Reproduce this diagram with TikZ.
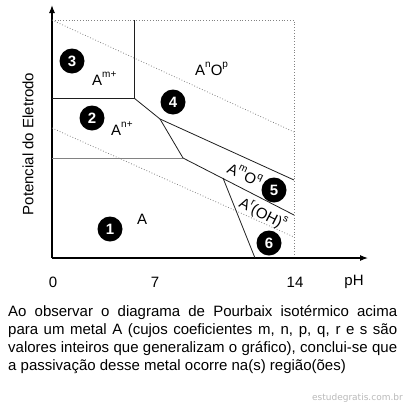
\documentclass[tikz,border=0pt]{standalone}
\usepackage{fontspec}
\setmainfont{Liberation Sans}
\newfontfamily\markfont{DejaVu Sans}
\usetikzlibrary{arrows.meta, positioning, calc}
\definecolor{pbline}{RGB}{30,30,30}
\definecolor{pbgray}{RGB}{130,130,130}
\definecolor{pbmark}{RGB}{185,185,185}
\newcommand{\pbsup}[1]{\raisebox{0.5em}{\fontsize{10}{10}\selectfont #1}}
\tikzset{
  axis/.style={-{Latex[length=8pt,width=6pt]}, line width=1.1pt, black},
  bnd/.style={line width=0.8pt, pbline},
  bndg/.style={line width=0.8pt, pbgray},
  wat/.style={line width=0.8pt, pbgray, dotted},
  frm/.style={line width=0.8pt, pbgray, dotted},
  reg/.style={circle, fill=black, text=white, minimum size=25pt, inner sep=0pt,
    font=\fontsize{15}{15}\selectfont\bfseries},
  spc/.style={font=\fontsize{15}{15}\selectfont, inner sep=0pt},
  tck/.style={font=\fontsize{15}{15}\selectfont, inner sep=0pt, anchor=base},
  para/.style={font=\fontsize{15}{18}\selectfont, text width=389pt, align=justify,
    inner sep=0pt, anchor=base west},
  wmark/.style={font=\markfont\fontsize{9}{9}\selectfont, text=pbmark, inner sep=0pt,
    anchor=base east}
}
\begin{document}
\begin{tikzpicture}[x=1pt, y=-1pt]
  \useasboundingbox (0,0) rectangle (407,405);
  % frame and axes
  \coordinate (o) at (52,258);
  \coordinate (ytop) at (52,5);
  \coordinate (xend) at (368,258);
  \coordinate (tl) at (52,20);
  \coordinate (tr) at (294,20);
  \coordinate (br) at (294,258);
  \draw[frm] (tl) -- (tr) -- (br);
  \draw[axis] (o) -- (ytop);
  \draw[axis] (o) -- (xend);
  % water lines
  \coordinate (wa) at (52,20);
  \coordinate (wb) at (294,132);
  \coordinate (wc) at (52,128);
  \coordinate (wd) at (294,237);
  \draw[wat] (wa) -- (wb);
  \draw[wat] (wc) -- (wd);
  % boundaries
  \coordinate (p1) at (134,20);
  \coordinate (p2) at (134,98);
  \coordinate (p3) at (52,98);
  \coordinate (p4) at (160,119);
  \coordinate (p5) at (294,180);
  \coordinate (p6) at (183,158);
  \coordinate (p7) at (52,158);
  \coordinate (p8) at (294,215);
  \coordinate (p9) at (223,178);
  \coordinate (p10) at (255,258);
  \draw[bnd] (p1) -- (p2) -- (p3);
  \draw[bnd] (p2) -- (p4) -- (p5);
  \draw[bnd] (p4) -- (p6) -- (p8);
  \draw[bndg] (p7) -- (p6);
  \draw[bnd] (p9) -- (p10);
  % regions
  \node[reg] (r1) at (110,229) {1};
  \node[reg] (r2) at (92,118) {2};
  \node[reg] (r3) at (72,61) {3};
  \node[reg] (r4) at (173,102) {4};
  \node[reg] (r5) at (274,190) {5};
  \node[reg] (r6) at (269,243) {6};
  % species
  \node[spc, anchor=base west] (sA) at (137,224) {A};
  \node[spc, anchor=base west] (sAn) at (111,135) {A\pbsup{n+}};
  \node[spc, anchor=base west] (sAm) at (92,85) {A\pbsup{m+}};
  \node[spc, anchor=base west] (sAO) at (195,75) {A\pbsup{n}O\pbsup{p}};
  \node[spc, rotate=-25] (sAmO) at (245,174) {A\pbsup{m}O\pbsup{q}};
  \node[spc, rotate=-27] (sAOH) at (263,214) {A\pbsup{r}(OH)\pbsup{s}};
  % axis labels
  \node[tck] (t0) at (53,287) {0};
  \node[tck] (t7) at (155,287) {7};
  \node[tck] (t14) at (295,287) {14};
  \node[tck] (tph) at (354,285) {pH};
  \node[tck, anchor=center, rotate=90] (ylab) at (28,144) {Potencial do Eletrodo};
  % question text
  \node[para] (q) at (8,316) {Ao observar o diagrama de Pourbaix isotérmico acima\linebreak
    para um metal A (cujos coeficientes m, n, p, q, r e s são\linebreak
    valores inteiros que generalizam o gráfico), conclui-se que\linebreak
    a passivação desse metal ocorre na(s) região(ões)};
  \node[wmark] (wm) at (403,400) {estudegratis.com.br};
\end{tikzpicture}
\end{document}
